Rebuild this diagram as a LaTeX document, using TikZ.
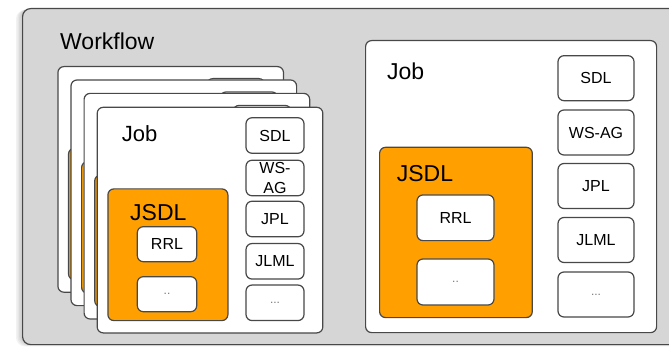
\documentclass[tikz,border=0pt]{standalone}
\usepackage{fontspec}
\setmainfont{Liberation Sans}
\definecolor{bggray}{RGB}{214,214,214}
\definecolor{linegray}{RGB}{72,72,72}
\definecolor{jsdlorange}{RGB}{255,160,0}
\definecolor{dotgray}{RGB}{120,120,120}
\begin{document}
\begin{tikzpicture}[x=1pt,y=-1pt]
\tikzset{
 base/.style={draw=linegray, line width=1.2pt, rounded corners=6pt, inner sep=0pt, anchor=north west},
 outerbox/.style={base, fill=bggray, rounded corners=8pt},
 jobbox/.style={base, fill=white},
 jsdlbox/.style={base, fill=jsdlorange},
 itembox/.style={draw=linegray, line width=1.2pt, rounded corners=6pt, fill=white, inner sep=0pt, font=\fontsize{16}{19}\selectfont, align=center},
 itemR/.style={itembox, minimum width=76pt, minimum height=45pt},
 itemL/.style={itembox, minimum width=58pt, minimum height=35.5pt},
 title/.style={anchor=base west, inner sep=0pt, font=\fontsize{23}{27}\selectfont},
 dotstext/.style={text=dotgray, font=\fontsize{12}{14}\selectfont},
 shadowbox/.style={fill=black, fill opacity=0.05, rounded corners=9pt, draw=none}
}
\useasboundingbox (0,0) rectangle (669,347);
\clip (0,0) rectangle (669,347);
% soft shadow of the workflow box
\foreach \d in {1,2,3,4} {
  \fill[shadowbox] (22-1.5*\d,8+0.5*\d) rectangle (690,344+0.6*\d);
}
% outer workflow box
\node[outerbox, minimum width=670pt, minimum height=336pt] (wf) at (22,8) {};
\node[title] (wflabel) at (60,49.3) {Workflow};
% stacked back job boxes
\foreach \ox/\oy [count=\k] in {57.3/66, 70.4/79.4, 83.5/92.8} {
  \node[jobbox, minimum width=225.6pt, minimum height=225.6pt] (back\k) at (\ox,\oy) {};
  \node[jsdlbox, minimum width=120pt, minimum height=131.7pt] (backjsdl\k) at (\ox+10.6,\oy+81.6) {};
  \node[itemL, anchor=north west] (backsdl\k) at (\ox+149,\oy+12) {};
}
% front job box (left)
\node[jobbox, minimum width=225.6pt, minimum height=225.6pt] (jobL) at (96.6,106.7) {};
\node[title, font=\fontsize{22}{26}\selectfont] (jobLlabel) at (121.7,141.7) {Job};
\node[itemL] (sdlL) at (275,135.5) {SDL};
\node[itemL] (wsagL) at (275,178) {};
\node[align=center, inner sep=0pt, font=\fontsize{16}{20}\selectfont] (wsagLtext) at (wsagL.center) {WS-\\AG};
\node[itemL] (jplL) at (275,219) {JPL};
\node[itemL] (jlmlL) at (275,261.3) {JLML};
\node[itemL, dotstext] (moreL) at (275,302.8) {...};
\node[jsdlbox, minimum width=120pt, minimum height=131.7pt] (jsdlL) at (107.3,188.3) {};
\node[title, font=\fontsize{23}{27}\selectfont] (jsdlLlabel) at (130,220.7) {JSDL};
\node[itemL, minimum width=59.4pt, minimum height=35pt] (rrlL) at (167,244.2) {RRL};
\node[itemL, minimum width=59.4pt, minimum height=35pt, dotstext] (dotsL) at (167,294.2) {..};
% right job box
\node[jobbox, minimum width=291pt, minimum height=292pt] (jobR) at (365,40) {};
\node[title] (jobRlabel) at (387,80) {Job};
\node[itemR] (sdlR) at (596,78.2) {SDL};
\node[itemR] (wsagR) at (596,132.5) {WS-AG};
\node[itemR] (jplR) at (596,186) {JPL};
\node[itemR] (jlmlR) at (596,240) {JLML};
\node[itemR, dotstext] (moreR) at (596,294.5) {...};
\node[jsdlbox, minimum width=152.7pt, minimum height=170.3pt] (jsdlR) at (379,146.7) {};
\node[title] (jsdlRlabel) at (396.7,181.7) {JSDL};
\node[itemR, minimum width=77pt, minimum height=45.7pt] (rrlR) at (455.5,217.8) {RRL};
\node[itemR, minimum width=77pt, minimum height=46pt, dotstext] (dotsR) at (455.5,282) {..};
\end{tikzpicture}
\end{document}
